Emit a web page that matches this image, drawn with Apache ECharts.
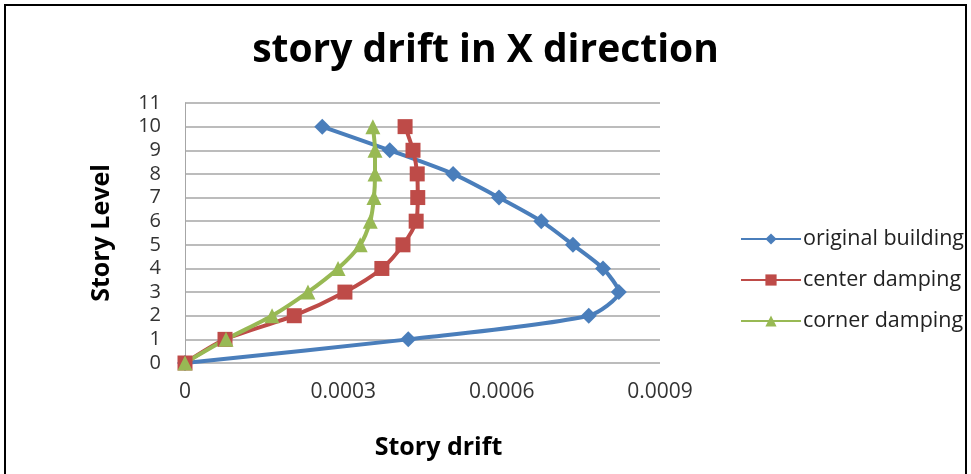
<!DOCTYPE html>
<html>
<head>
<meta charset="utf-8">
<script src="https://cdn.jsdelivr.net/npm/echarts@6/dist/echarts.min.js"></script>
<style>
html,body{margin:0;padding:0;background:#fff;}
#c{width:971px;height:474px;}
</style>
</head>
<body>
<div id="c"></div>
<script>
var levels = [0,1,2,3,4,5,6,7,8,9,10];
var originalBuilding = [0,0.000423,0.000765,0.000822,0.000792,0.000735,0.000675,0.000595,0.000508,0.000388,0.00026];
var centerDamping = [0,0.0000758,0.000207,0.000303,0.000373,0.000413,0.000438,0.000441,0.00044,0.000432,0.000417];
var cornerDamping = [0,0.0000777,0.000165,0.000233,0.00029,0.000332,0.000351,0.000358,0.00036,0.00036,0.000356];
var seriesNames = ['original building','center damping','corner damping'];
var xTicks = [0,0.0003,0.0006,0.0009];

function pairs(xs){ return xs.map(function(v,i){ return [v, levels[i]]; }); }

var chart = echarts.init(document.getElementById('c'));
var font = '"Open Sans", Lato, sans-serif';
chart.setOption({
  animation:false,
  backgroundColor:'#fff',
  graphic:[{type:'rect',shape:{x:5,y:5,width:961,height:490},style:{fill:'none',stroke:'#000',lineWidth:2}}],
  title:{text:'story drift in X direction',left:'center',top:26,
    textStyle:{fontFamily:font,fontSize:39,fontWeight:'bold',color:'#000'}},
  grid:{left:185,right:311,top:103,bottom:111},
  legend:{orient:'vertical',left:735,top:223,itemWidth:60,itemHeight:14,itemGap:19,
    textStyle:{fontFamily:font,fontSize:21.5,color:'#222',padding:[0,0,0,-3]},
    data:seriesNames},
  xAxis:{type:'value',min:0,max:0.0009,interval:0.0003,
    name:'Story drift',nameLocation:'middle',nameGap:72,
    nameTextStyle:{fontFamily:font,fontSize:25,fontWeight:'bold',color:'#000',padding:[0,0,0,32]},
    axisLine:{show:false},axisTick:{show:false},splitLine:{show:false},
    axisLabel:{fontFamily:font,fontSize:21,color:'#333',margin:19,
      formatter:function(v){ for(var i=0;i<xTicks.length;i++){ if(Math.abs(v-xTicks[i])<1e-9) return String(xTicks[i]); } return ''; }}},
  yAxis:{type:'value',min:0,max:11,interval:1,
    name:'Story Level',nameLocation:'middle',nameGap:71,
    nameTextStyle:{fontFamily:font,fontSize:25,fontWeight:'bold',color:'#000'},
    axisLine:{show:true,lineStyle:{color:'#a6a6a6',width:1}},axisTick:{show:false},
    splitLine:{show:true,lineStyle:{color:'#a6a6a6',width:1.5}},
    axisLabel:{fontFamily:font,fontSize:20,color:'#333',margin:24}},
  series:[
    {name:seriesNames[0],type:'line',data:pairs(originalBuilding),smooth:0.25,
     symbol:'diamond',symbolSize:16,color:'#4a7ebb',lineStyle:{width:4,color:'#4a7ebb'},itemStyle:{color:'#4a7ebb'}},
    {name:seriesNames[1],type:'line',data:pairs(centerDamping),smooth:0.25,
     symbol:'rect',symbolSize:15,color:'#be4b48',lineStyle:{width:4,color:'#be4b48'},itemStyle:{color:'#be4b48'}},
    {name:seriesNames[2],type:'line',data:pairs(cornerDamping),smooth:0.25,
     symbol:'triangle',symbolSize:15,color:'#98b954',lineStyle:{width:4,color:'#98b954'},itemStyle:{color:'#98b954'}}
  ]
});
</script>
</body>
</html>
